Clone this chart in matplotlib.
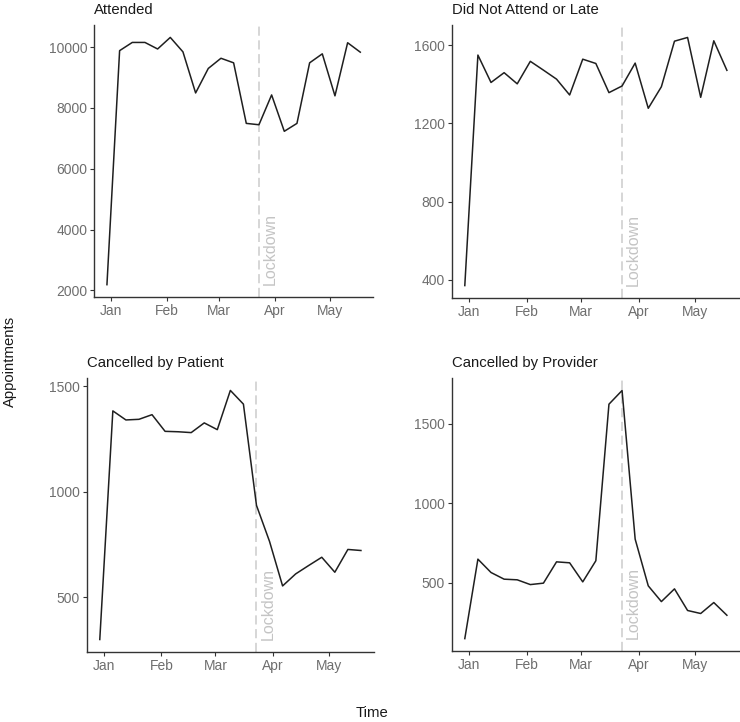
import numpy as np
import pandas as pd
import matplotlib
matplotlib.use("Agg")
import matplotlib.pyplot as plt
import matplotlib.dates as mdates

plt.rcParams['font.family'] = ['Liberation Sans', 'DejaVu Sans']

# weekly appointment counts, week starting Monday
weeks = pd.date_range("2019-12-30", periods=21, freq="7D")
lockdown = pd.Timestamp("2020-03-23")

attended = [2190, 9880, 10150, 10150, 9935, 10315, 9840, 8490, 9295, 9630, 9480,
            7490, 7445, 8425, 7230, 7490, 9480, 9775, 8395, 10140, 9830]
did_not_attend = [371, 1549, 1409, 1459, 1402, 1517, 1472, 1426, 1345, 1528, 1506,
                  1357, 1391, 1508, 1277, 1387, 1620, 1639, 1333, 1622, 1471]
cancelled_patient = [300, 1384, 1341, 1344, 1366, 1287, 1285, 1281, 1327, 1295, 1481,
                     1416, 936, 765, 554, 611, 651, 690, 619, 727, 722]
cancelled_provider = [149, 649, 565, 523, 519, 489, 498, 632, 626, 506, 639,
                      1624, 1710, 775, 481, 382, 462, 326, 307, 376, 296]

titles = ["Attended", "Did Not Attend or Late", "Cancelled by Patient", "Cancelled by Provider"]
series = [attended, did_not_attend, cancelled_patient, cancelled_provider]
yticks = [[2000, 4000, 6000, 8000, 10000], [400, 800, 1200, 1600], [500, 1000, 1500], [500, 1000, 1500]]

# panel rectangles in figure fractions (left, bottom, width, height)
rects = [
    (0.1274, 0.5886, 0.3766, 0.3767),
    (0.6104, 0.5873, 0.3896, 0.3780),
    (0.1172, 0.0970, 0.3882, 0.3795),
    (0.6104, 0.0983, 0.3896, 0.3780),
]

fig = plt.figure(figsize=(7.4, 7.22), dpi=100)
fig.patch.set_facecolor("white")

for rect, title, vals, yt in zip(rects, titles, series, yticks):
    ax = fig.add_axes(rect)
    ax.plot(weeks, vals, color="#1f1f1f", lw=1.1, zorder=3)
    ax.margins(x=0.05, y=0.05)
    ax.axvline(lockdown, color="#cccccc", lw=1.1, dashes=(6, 3), zorder=2)
    ax.annotate("Lockdown", xy=(lockdown, min(vals)), xytext=(3, 0), textcoords="offset points",
                rotation=90, rotation_mode="anchor", ha="left", va="top",
                color="#c4c4c4", fontsize=11.5)

    ax.set_yticks(yt)
    ax.set_yticklabels([str(v) for v in yt])
    ax.xaxis.set_major_locator(mdates.MonthLocator())
    ax.xaxis.set_major_formatter(mdates.DateFormatter("%b"))

    for side in ["top", "right"]:
        ax.spines[side].set_visible(False)
    for side in ["left", "bottom"]:
        ax.spines[side].set_color("#333333")
        ax.spines[side].set_linewidth(1.0)
    ax.tick_params(axis="both", length=3, width=0.8, color="#333333",
                   labelcolor="#6e6e6e", labelsize=10, pad=2)
    ax.set_title(title, loc="left", fontsize=10.7, color="#1a1a1a", pad=8)

fig.text(0.014, 0.5, "Appointments", rotation=90, ha="center", va="center",
         fontsize=10.7, color="#1a1a1a")
fig.text(0.503, 0.013, "Time", ha="center", va="center", fontsize=10.7, color="#1a1a1a")

fig.savefig("out.png", dpi=100, facecolor="white")
